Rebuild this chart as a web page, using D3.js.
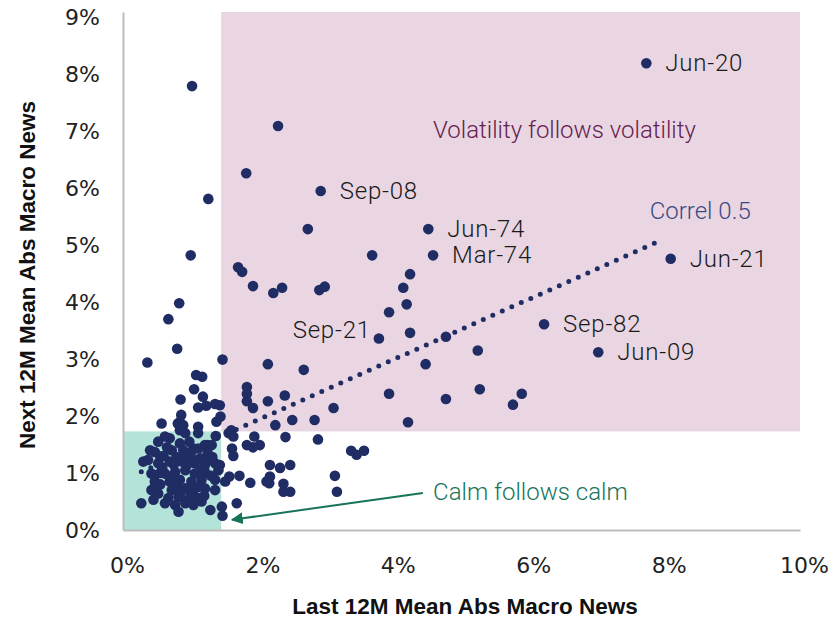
<!DOCTYPE html>
<html>
<head>
<meta charset="utf-8">
<script src="https://cdn.jsdelivr.net/npm/d3@7"></script>
<style>
  body { margin: 0; background: #fff; }
  svg { display: block; }
  .tick text { font-family: "DejaVu Sans", sans-serif; font-size: 22px; fill: #222; }
  .ann { font-family: Roboto, "Liberation Sans", sans-serif; font-weight: 300; font-size: 24px; }
  .title { font-family: "Liberation Sans", Arial, sans-serif; font-weight: bold; font-size: 22.5px; fill: #111; }
</style>
</head>
<body>
<div id="chart"></div>
<script>
// last 12M mean abs macro news (x, %) vs next 12M (y, %)
var lastX = [7.73, 1.02, 2.29, 1.82, 2.92, 1.26, 2.73, 4.51, 3.68, 4.58, 1.00, 8.09, 1.70, 1.76, 1.92, 2.22, 2.35, 2.90, 2.98, 4.24,
	4.14, 4.19, 3.93, 4.24, 3.78, 0.83, 0.67, 0.80, 0.36, 1.47, 2.14, 2.67, 4.47, 4.77, 5.24, 6.22, 7.02, 5.27, 5.76, 5.89,
	4.77, 3.93, 4.21, 3.11, 1.83, 1.83, 1.83, 2.14, 2.39, 1.92, 2.25, 2.50, 2.83, 1.44, 1.38, 1.17, 1.08, 1.18, 1.05, 0.85,
	1.11, 1.23, 1.36, 0.86, 0.57, 0.84, 0.84, 1.11, 1.11, 1.37, 1.60, 1.63, 1.94, 2.40, 2.88, 1.83, 2.02, 1.92, 1.61, 1.63,
	3.37, 3.45, 3.56, 3.13, 3.16, 2.17, 2.32, 2.47, 2.17, 2.16, 2.37, 2.37, 2.47, 2.12, 1.88, 1.72, 1.68, 1.57, 1.43, 0.81,
	0.89, 0.92, 1.56, 0.62, 0.69, 0.52, 0.84, 1.21, 1.31, 1.04, 1.11, 0.47, 0.72, 0.89, 0.79, 0.92, 1.01, 1.14, 1.26, 0.37,
	0.52, 0.69, 0.87, 1.06, 1.21, 1.36, 1.43, 0.47, 0.62, 0.77, 0.92, 1.06, 1.21, 1.41, 0.47, 0.69, 0.84, 1.01, 1.16, 1.36,
	1.51, 0.42, 0.72, 0.92, 1.04, 1.21, 1.36, 0.52, 0.45, 0.67, 0.82, 0.96, 1.11, 0.27, 0.62, 0.77, 0.92, 1.04, 1.16, 0.82,
	1.29, 1.46, 1.47, 0.30, 0.42, 0.55, 0.47,
	0.55, 0.60, 0.75, 0.95, 1.15, 1.30, 0.85, 1.00, 1.20, 0.55, 0.80, 1.10, 0.65, 1.00, 1.25, 0.40, 0.98, 0.70, 1.32, 0.58];
var nextY = [8.19, 7.79, 7.09, 6.26, 5.95, 5.81, 5.28, 5.28, 4.82, 4.82, 4.82, 4.76, 4.61, 4.53, 4.28, 4.16, 4.25, 4.21, 4.27, 4.49,
	4.25, 3.96, 3.82, 3.46, 3.36, 3.98, 3.70, 3.18, 2.94, 2.99, 2.91, 2.81, 2.91, 3.39, 3.15, 3.61, 3.12, 2.47, 2.20, 2.39,
	2.30, 2.39, 1.89, 2.14, 2.51, 2.39, 2.26, 2.26, 2.36, 2.14, 1.84, 1.93, 1.93, 1.99, 1.90, 2.69, 2.72, 2.34, 2.47, 2.29,
	2.15, 2.18, 2.21, 2.02, 1.87, 1.90, 1.75, 1.81, 1.70, 1.65, 1.75, 1.64, 1.64, 1.63, 1.59, 1.49, 1.49, 1.45, 1.43, 1.30,
	1.39, 1.32, 1.39, 0.95, 0.67, 1.14, 1.09, 1.14, 0.94, 0.82, 0.81, 0.67, 0.67, 0.85, 0.83, 0.95, 0.47, 0.94, 2.19, 1.87,
	1.84, 1.70, 1.70, 1.64, 1.61, 1.55, 1.52, 1.49, 1.49, 1.43, 1.43, 1.37, 1.40, 1.40, 1.28, 1.26, 1.26, 1.26, 1.26, 1.23,
	1.17, 1.20, 1.20, 1.17, 1.14, 1.17, 1.14, 0.96, 0.99, 1.02, 1.05, 0.99, 1.02, 1.05, 0.85, 0.85, 0.88, 0.85, 0.88, 0.88,
	0.85, 0.70, 0.70, 0.73, 0.70, 0.73, 0.70, 0.64, 0.53, 0.56, 0.58, 0.53, 0.56, 0.47, 0.47, 0.44, 0.47, 0.44, 0.50, 0.32,
	0.35, 0.41, 0.25, 1.20, 0.99, 1.29, 0.76,
	1.00, 1.30, 1.15, 1.15, 1.05, 0.95, 0.65, 0.60, 0.60, 0.80, 0.78, 0.75, 1.45, 1.35, 1.35, 1.40, 1.55, 0.92, 1.28, 1.10];

var labelText = ["Jun-20", "Sep-08", "Jun-74", "Mar-74", "Jun-21", "Sep-82", "Jun-09", "Sep-21"];
var labelX = [7.73, 2.92, 4.51, 4.58, 8.09, 6.22, 7.02, 3.78];
var labelY = [8.19, 5.95, 5.28, 4.82, 4.76, 3.61, 3.12, 3.36];

// regression line end points (correl 0.5)
var fitX = [0.27, 7.98];
var fitY = [1.02, 5.10];

// regime boxes
var calmEdgeX = 1.45, calmEdgeY = 1.73;

var xTicks = [0, 2, 4, 6, 8, 10];
var yTicks = [0, 1, 2, 3, 4, 5, 6, 7, 8, 9];

var width = 836, height = 619;
var navy = "#202c64";

var svg = d3.select("#chart").append("svg")
	.attr("width", width)
	.attr("height", height);

var x = d3.scaleLinear().domain([0, 10]).range([123, 800]);
var y = d3.scaleLinear().domain([0, 9.09]).range([530, 12]);

// boxes
svg.append("rect")
	.attr("x", x(calmEdgeX)).attr("y", y(9.09))
	.attr("width", x(10) - x(calmEdgeX))
	.attr("height", y(calmEdgeY) - y(9.09))
	.attr("fill", "#e9d6e2");
svg.append("rect")
	.attr("x", x(0)).attr("y", y(calmEdgeY))
	.attr("width", x(calmEdgeX) - x(0))
	.attr("height", y(0) - y(calmEdgeY))
	.attr("fill", "#b3e3d9");

// axes
var xAxis = svg.append("g")
	.attr("transform", "translate(0," + y(0) + ")")
	.call(d3.axisBottom(x).tickValues(xTicks).tickFormat(function(d) { return d + "%"; })
		.tickSize(0).tickPadding(27));
xAxis.selectAll(".tick text").attr("dx", 4);

var yAxis = svg.append("g")
	.attr("transform", "translate(" + x(0) + ",0)")
	.call(d3.axisLeft(y).tickValues(yTicks).tickFormat(function(d) { return d + "%"; })
		.tickSize(0).tickPadding(23));

svg.selectAll(".domain").attr("stroke", "#bdbdbd").attr("stroke-width", 2);

// correlation line, dotted
svg.append("line")
	.attr("x1", x(fitX[0])).attr("y1", y(fitY[0]))
	.attr("x2", x(fitX[1])).attr("y2", y(fitY[1]))
	.attr("stroke", navy)
	.attr("stroke-width", 5)
	.attr("stroke-linecap", "round")
	.attr("stroke-dasharray", "0,10.4");

// points
svg.append("g").selectAll("circle")
	.data(d3.range(lastX.length))
	.enter().append("circle")
	.attr("cx", function(i) { return x(lastX[i]); })
	.attr("cy", function(i) { return y(nextY[i]); })
	.attr("r", 5.3)
	.attr("fill", navy);

// point labels
svg.append("g").selectAll("text")
	.data(d3.range(labelText.length))
	.enter().append("text")
	.attr("class", "ann")
	.attr("x", function(i) { return x(labelX[i]) + (labelText[i] == "Sep-21" ? -8 : 19); })
	.attr("y", function(i) { return y(labelY[i]) + (labelText[i] == "Sep-21" ? -9 : 0); })
	.attr("text-anchor", function(i) { return labelText[i] == "Sep-21" ? "end" : "start"; })
	.attr("dominant-baseline", "central")
	.attr("letter-spacing", 0.8)
	.attr("fill", "#1a1a1a")
	.text(function(i) { return labelText[i]; });

svg.append("text").attr("class", "ann")
	.attr("x", x(4.58)).attr("y", y(7.02))
	.attr("dominant-baseline", "central")
	.attr("fill", "#66204f")
	.text("Volatility follows volatility");

svg.append("text").attr("class", "ann")
	.attr("x", x(7.78)).attr("y", y(5.6))
	.attr("dominant-baseline", "central")
	.attr("fill", "#3b4a85")
	.text("Correl 0.5");

svg.append("text").attr("class", "ann")
	.attr("x", x(4.58)).attr("y", y(0.67))
	.attr("dominant-baseline", "central")
	.attr("fill", "#17745a")
	.text("Calm follows calm");

// arrow to calm region
var defs = svg.append("defs");
defs.append("marker")
	.attr("id", "arrow")
	.attr("viewBox", "0 0 10 10")
	.attr("refX", 9).attr("refY", 5)
	.attr("markerWidth", 6).attr("markerHeight", 6)
	.attr("markerUnits", "strokeWidth")
	.attr("orient", "auto")
	.append("path")
	.attr("d", "M0,0 L10,5 L0,10 z")
	.attr("fill", "#17745a");

svg.append("line")
	.attr("x1", x(4.43)).attr("y1", y(0.65))
	.attr("x2", x(1.61)).attr("y2", y(0.18))
	.attr("stroke", "#17745a")
	.attr("stroke-width", 2)
	.attr("marker-end", "url(#arrow)");

// axis titles
svg.append("text").attr("class", "title")
	.attr("x", 465).attr("y", 614)
	.attr("text-anchor", "middle")
	.text("Last 12M Mean Abs Macro News");

svg.append("text").attr("class", "title")
	.attr("transform", "translate(35,275) rotate(-90)")
	.attr("text-anchor", "middle")
	.text("Next 12M Mean Abs Macro News");
</script>
</body>
</html>
